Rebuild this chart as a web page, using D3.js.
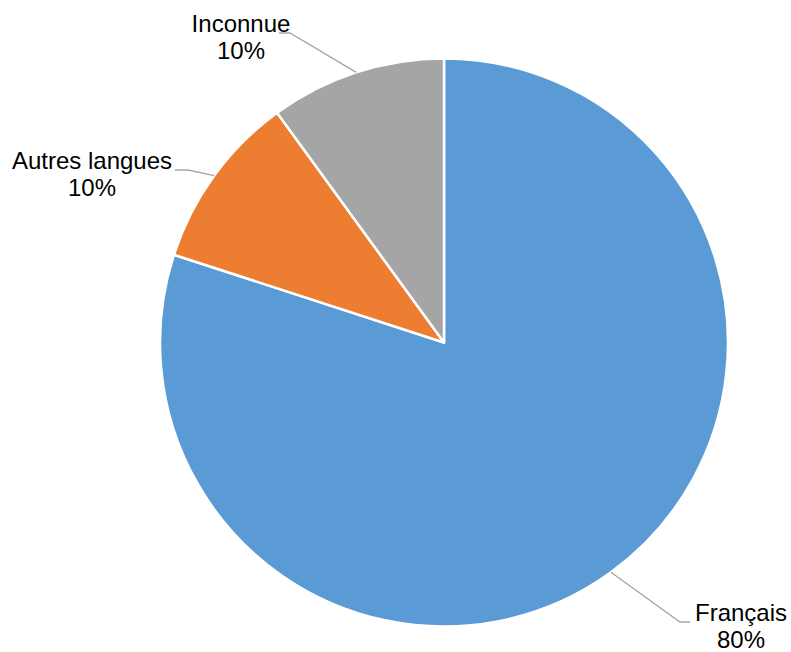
<!DOCTYPE html>
<html>
<head>
<meta charset="utf-8">
<script src="https://cdn.jsdelivr.net/npm/d3@7"></script>
<style>
    body { margin: 0; background: #fff; }
    text { font-family: "Liberation Sans", Arial, sans-serif; fill: #000; }
</style>
</head>
<body>
<div id="chart"></div>
<script>
//数据
const categories = ["Français", "Autres langues", "Inconnue"];
const values = [80, 10, 10];
const colors = ["#5B9BD5", "#ED7D31", "#A5A5A5"];

//绘图属性
const width = 791;
const height = 652;
const cx = 444, cy = 342.5, radius = 284;
const fontSize = 24;

// label anchor (text centre, first baseline) and leader elbow, per slice
var labelLayout = [
    {tx: 741, ty: 621, elbow: [680, 622], end: [690, 622]},
    {tx: 92, ty: 169, elbow: [188, 170], end: [175, 170]},
    {tx: 241, ty: 32, elbow: [290, 33], end: [279, 33]}
];

var svg = d3.select("#chart").append("svg")
    .attr("width", width).attr("height", height);

var g = svg.append("g").attr("transform", "translate(" + cx + "," + cy + ")");

var pie = d3.pie().sort(null).value(d => d.value);
var arc = d3.arc().innerRadius(0).outerRadius(radius);

var data = categories.map((c, i) => ({name: c, value: values[i], color: colors[i]}));
var arcs = pie(data);
var total = d3.sum(values);

g.selectAll(".slice")
    .data(arcs)
    .enter()
    .append("path")
    .attr("class", "slice")
    .attr("d", arc)
    .attr("fill", d => d.data.color)
    .attr("stroke", "#fff")
    .attr("stroke-width", 2.5)
    .attr("stroke-linejoin", "round");

//引线
svg.append("g")
    .selectAll("polyline")
    .data(arcs)
    .enter()
    .append("polyline")
    .attr("points", function (d, i) {
        var a = (d.startAngle + d.endAngle) / 2;
        var px = cx + radius * Math.sin(a);
        var py = cy - radius * Math.cos(a);
        var L = labelLayout[i];
        return [[px, py], L.elbow, L.end].map(p => p.join(",")).join(" ");
    })
    .attr("fill", "none")
    .attr("stroke", "#A6A6A6")
    .attr("stroke-width", 1.3);

//标签
var labels = svg.append("g")
    .selectAll("text")
    .data(arcs)
    .enter()
    .append("text")
    .attr("text-anchor", "middle")
    .attr("font-size", fontSize)
    .attr("x", (d, i) => labelLayout[i].tx)
    .attr("y", (d, i) => labelLayout[i].ty);

labels.append("tspan")
    .attr("x", (d, i) => labelLayout[i].tx)
    .text(d => d.data.name);

labels.append("tspan")
    .attr("x", (d, i) => labelLayout[i].tx)
    .attr("dy", 26.5)
    .text(d => d3.format(".0%")(d.data.value / total));
</script>
</body>
</html>
